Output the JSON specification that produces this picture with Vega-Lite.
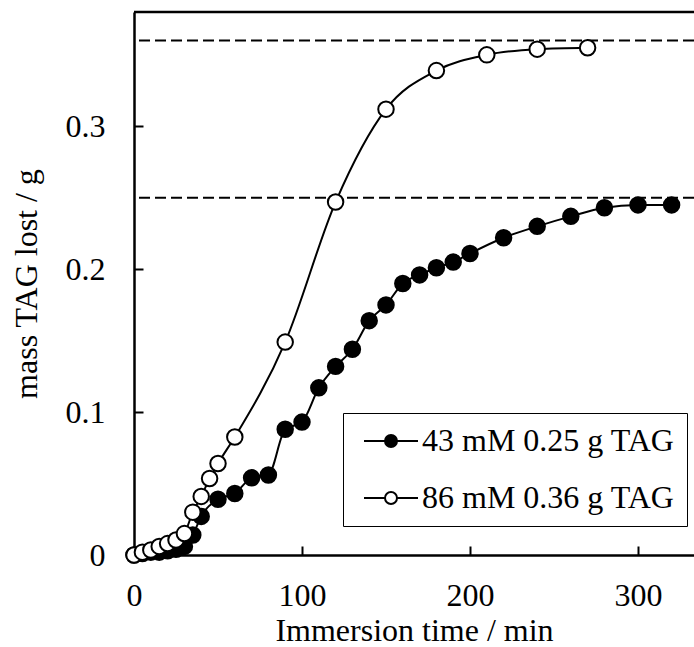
{
  "$schema": "https://vega.github.io/schema/vega-lite/v6.json",
  "autosize": {"type": "none"},
  "padding": {"left": 134, "top": 12, "right": 0, "bottom": 92},
  "width": 560,
  "height": 543,
  "background": "white",
  "config": {
    "view": {"stroke": null},
    "font": "Liberation Serif",
    "axis": {
      "labelFont": "Liberation Serif", "labelFontSize": 32, "labelColor": "black",
      "titleFont": "Liberation Serif", "titleFontSize": 32, "titleFontWeight": "normal", "titleColor": "black",
      "domainColor": "black", "domainWidth": 2.5, "tickColor": "black", "tickWidth": 2, "grid": false,
      "labelFlush": false
    }
  },
  "datasets": {
    "tag": [
      {"series": "43 mM 0.25 g TAG", "time": 0, "mass": 0},
      {"series": "43 mM 0.25 g TAG", "time": 5, "mass": 0.001},
      {"series": "43 mM 0.25 g TAG", "time": 10, "mass": 0.002},
      {"series": "43 mM 0.25 g TAG", "time": 15, "mass": 0.002},
      {"series": "43 mM 0.25 g TAG", "time": 20, "mass": 0.003},
      {"series": "43 mM 0.25 g TAG", "time": 25, "mass": 0.004},
      {"series": "43 mM 0.25 g TAG", "time": 30, "mass": 0.006},
      {"series": "43 mM 0.25 g TAG", "time": 35, "mass": 0.014},
      {"series": "43 mM 0.25 g TAG", "time": 40, "mass": 0.027},
      {"series": "43 mM 0.25 g TAG", "time": 50, "mass": 0.039},
      {"series": "43 mM 0.25 g TAG", "time": 60, "mass": 0.043},
      {"series": "43 mM 0.25 g TAG", "time": 70, "mass": 0.054},
      {"series": "43 mM 0.25 g TAG", "time": 80, "mass": 0.056},
      {"series": "43 mM 0.25 g TAG", "time": 90, "mass": 0.088},
      {"series": "43 mM 0.25 g TAG", "time": 100, "mass": 0.093},
      {"series": "43 mM 0.25 g TAG", "time": 110, "mass": 0.117},
      {"series": "43 mM 0.25 g TAG", "time": 120, "mass": 0.132},
      {"series": "43 mM 0.25 g TAG", "time": 130, "mass": 0.144},
      {"series": "43 mM 0.25 g TAG", "time": 140, "mass": 0.164},
      {"series": "43 mM 0.25 g TAG", "time": 150, "mass": 0.175},
      {"series": "43 mM 0.25 g TAG", "time": 160, "mass": 0.19},
      {"series": "43 mM 0.25 g TAG", "time": 170, "mass": 0.196},
      {"series": "43 mM 0.25 g TAG", "time": 180, "mass": 0.201},
      {"series": "43 mM 0.25 g TAG", "time": 190, "mass": 0.205},
      {"series": "43 mM 0.25 g TAG", "time": 200, "mass": 0.211},
      {"series": "43 mM 0.25 g TAG", "time": 220, "mass": 0.222},
      {"series": "43 mM 0.25 g TAG", "time": 240, "mass": 0.23},
      {"series": "43 mM 0.25 g TAG", "time": 260, "mass": 0.237},
      {"series": "43 mM 0.25 g TAG", "time": 280, "mass": 0.243},
      {"series": "43 mM 0.25 g TAG", "time": 300, "mass": 0.245},
      {"series": "43 mM 0.25 g TAG", "time": 320, "mass": 0.245},
      {"series": "86 mM 0.36 g TAG", "time": 0, "mass": 0},
      {"series": "86 mM 0.36 g TAG", "time": 5, "mass": 0.002},
      {"series": "86 mM 0.36 g TAG", "time": 10, "mass": 0.0035},
      {"series": "86 mM 0.36 g TAG", "time": 15, "mass": 0.006},
      {"series": "86 mM 0.36 g TAG", "time": 20, "mass": 0.008},
      {"series": "86 mM 0.36 g TAG", "time": 25, "mass": 0.0105},
      {"series": "86 mM 0.36 g TAG", "time": 30, "mass": 0.015},
      {"series": "86 mM 0.36 g TAG", "time": 35, "mass": 0.030},
      {"series": "86 mM 0.36 g TAG", "time": 40, "mass": 0.041},
      {"series": "86 mM 0.36 g TAG", "time": 45, "mass": 0.0535},
      {"series": "86 mM 0.36 g TAG", "time": 50, "mass": 0.064},
      {"series": "86 mM 0.36 g TAG", "time": 60, "mass": 0.0826},
      {"series": "86 mM 0.36 g TAG", "time": 90, "mass": 0.149},
      {"series": "86 mM 0.36 g TAG", "time": 120, "mass": 0.247},
      {"series": "86 mM 0.36 g TAG", "time": 150, "mass": 0.312},
      {"series": "86 mM 0.36 g TAG", "time": 180, "mass": 0.339},
      {"series": "86 mM 0.36 g TAG", "time": 210, "mass": 0.350},
      {"series": "86 mM 0.36 g TAG", "time": 240, "mass": 0.354},
      {"series": "86 mM 0.36 g TAG", "time": 270, "mass": 0.355}
    ],
    "refs": [
      {"level": 0.25, "kind": "dashed"},
      {"level": 0.36, "kind": "dashed"},
      {"level": 0.38, "kind": "frame"}
    ]
  },
  "layer": [
    {
      "data": {"name": "refs"},
      "transform": [{"filter": "datum.kind == 'dashed'"}],
      "mark": {"type": "rule", "color": "black", "strokeWidth": 2, "strokeDash": [11, 5]},
      "encoding": {
        "y": {"field": "level", "type": "quantitative", "scale": {"domain": [0, 0.38], "nice": false}}
      }
    },
    {
      "data": {"name": "refs"},
      "transform": [{"filter": "datum.kind == 'frame'"}],
      "mark": {"type": "rule", "color": "black", "strokeWidth": 2.5},
      "encoding": {
        "y": {"field": "level", "type": "quantitative"}
      }
    },
    {
      "data": {"name": "tag"},
      "mark": {"type": "line", "color": "black", "strokeWidth": 2, "interpolate": "monotone"},
      "encoding": {
        "x": {"field": "time", "type": "quantitative"},
        "y": {"field": "mass", "type": "quantitative"},
        "detail": {"field": "series"}
      }
    },
    {
      "data": {"name": "tag"},
      "mark": {"type": "point", "shape": "circle", "filled": true, "size": 240, "stroke": "black", "strokeWidth": 2, "opacity": 1},
      "encoding": {
        "x": {
          "field": "time", "type": "quantitative",
          "scale": {"domain": [0, 333.33], "nice": false, "zero": true},
          "axis": {"values": [0, 100, 200, 300], "tickSize": -9, "labelPadding": 34, "title": "Immersion time / min", "titlePadding": 4}
        },
        "y": {
          "field": "mass", "type": "quantitative",
          "axis": {"values": [0, 0.1, 0.2, 0.3], "tickSize": -9, "labelPadding": 38, "labelExpr": "datum.value == 0 ? '0' : format(datum.value, '.1f')", "title": "mass TAG lost / g", "titlePadding": 22}
        },
        "fill": {
          "field": "series", "type": "nominal",
          "scale": {"domain": ["43 mM 0.25 g TAG", "86 mM 0.36 g TAG"], "range": ["black", "white"]},
          "legend": {
            "title": null, "orient": "none", "legendX": 209, "legendY": 401,
            "strokeColor": "black", "fillColor": "white", "padding": 12,
            "symbolType": "M-4.5,0L-1,0M1,0L4.5,0M-1,0A1,1 0 1,0 1,0A1,1 0 1,0 -1,0Z",
            "symbolSize": 144, "symbolStrokeColor": "black", "symbolStrokeWidth": 2, "symbolOffset": 20,
            "labelFont": "Liberation Serif", "labelFontSize": 32, "labelColor": "black", "labelOffset": 15,
            "rowPadding": 25, "labelLimit": 400
          }
        }
      }
    }
  ]
}
